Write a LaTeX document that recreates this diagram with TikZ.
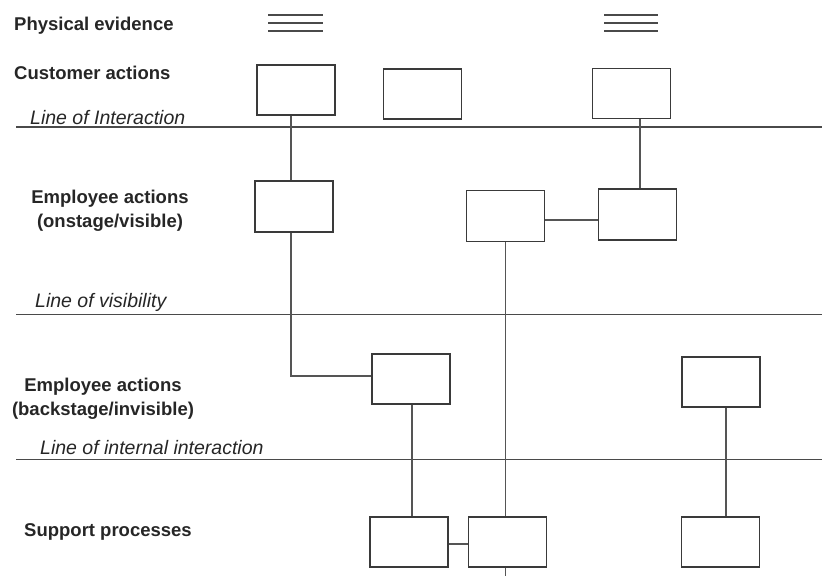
\documentclass[tikz,border=0pt]{standalone}
\usepackage{fontspec}
\setmainfont{Liberation Sans}
\begin{document}
\begin{tikzpicture}[x=1pt,y=-1pt,
  rowlabel/.style={font=\fontsize{18.5}{24}\selectfont\bfseries, text=ink, inner sep=0pt, align=center},
  linelabel/.style={font=\fontsize{19.5}{24}\selectfont\itshape, text=ink, anchor=west, inner sep=0pt},
  actbox/.style={draw=boxline, line width=1.2pt, fill=white, minimum width=78pt, minimum height=50pt, inner sep=0pt},
  link/.style={draw=linkline, line width=1.1pt},
  divider/.style={draw=divline, line width=1pt},
  evid/.style={draw=divline, line width=1.3pt}
]
\definecolor{ink}{HTML}{262626}
\definecolor{boxline}{HTML}{3A3A3A}
\definecolor{linkline}{HTML}{555555}
\definecolor{divline}{HTML}{4A4A4A}

\useasboundingbox (0,0) rectangle (822,576);

% lane labels
\node[rowlabel, anchor=west] (lpe) at (14,25.5) {Physical evidence};
\node[rowlabel, anchor=west] (lca) at (14,72.5) {Customer actions};
\node[rowlabel] (lon) at (110,210.5) {Employee actions\\(onstage/visible)};
\node[rowlabel] (lback) at (103,398.5) {Employee actions\\(backstage/invisible)};
\node[rowlabel, anchor=west] (lsup) at (24,531.5) {Support processes};

% separating lines
\node[linelabel] (tint) at (30,117.5) {Line of Interaction};
\node[linelabel] (tvis) at (35,302.5) {Line of visibility};
\node[linelabel] (tinn) at (40,447.5) {Line of internal interaction};
\coordinate (i1) at (16,127); \coordinate (i2) at (822,127);
\coordinate (v1) at (16,314); \coordinate (v2) at (822,314);
\coordinate (n1) at (16,459); \coordinate (n2) at (822,459);
\draw[divider, line width=1.5pt] (i1) -- (i2);
\draw[divider] (v1) -- (v2);
\draw[divider] (n1) -- (n2);

% physical evidence marks
\foreach \yy in {15,23,31} {
  \draw[evid] (268,\yy) -- (323,\yy);
  \draw[evid] (604,\yy) -- (658,\yy);
}

% customer actions
\node[actbox] (c1) at (296,90) {};
\node[actbox] (c2) at (422.5,94) {};
\node[actbox] (c3) at (631.5,93.5) {};
% onstage employee actions
\node[actbox, minimum height=51pt] (e1) at (294,206.5) {};
\node[actbox, minimum height=51pt] (e2) at (505.5,216) {};
\node[actbox, minimum height=51pt] (e3) at (637.5,214.5) {};
% backstage employee actions
\node[actbox] (b1) at (411,379) {};
\node[actbox] (b2) at (721,382) {};
% support processes
\node[actbox] (s1) at (409,542) {};
\node[actbox] (s2) at (507.5,542) {};
\node[actbox] (s3) at (720.5,542) {};
\coordinate (tail) at (505.5,576);

% connectors (shifts are in page units: positive yshift points up)
\draw[link] ([xshift=-5pt]c1.south) -- ([xshift=-3pt]e1.north);
\draw[link] ([xshift=-3pt]e1.south) |- ([yshift=3pt]b1.west);
\draw[link] ([xshift=8.5pt]c3.south) -- ([xshift=2.5pt]e3.north);
\draw[link] ([yshift=-4pt]e2.east) -- ([yshift=-5.5pt]e3.west);
\draw[link] (e2.south) -- (e2.south |- s2.north);
\draw[link] ([xshift=1pt]b1.south) -- ([xshift=1pt]b1.south |- s1.north);
\draw[link] ([yshift=-2pt]s1.east) -- ([yshift=-2pt]s2.west);
\draw[link] (s2.south -| tail) -- (tail);
\draw[link] ([xshift=5pt]b2.south) -- ([xshift=5pt]b2.south |- s3.north);
\end{tikzpicture}
\end{document}
